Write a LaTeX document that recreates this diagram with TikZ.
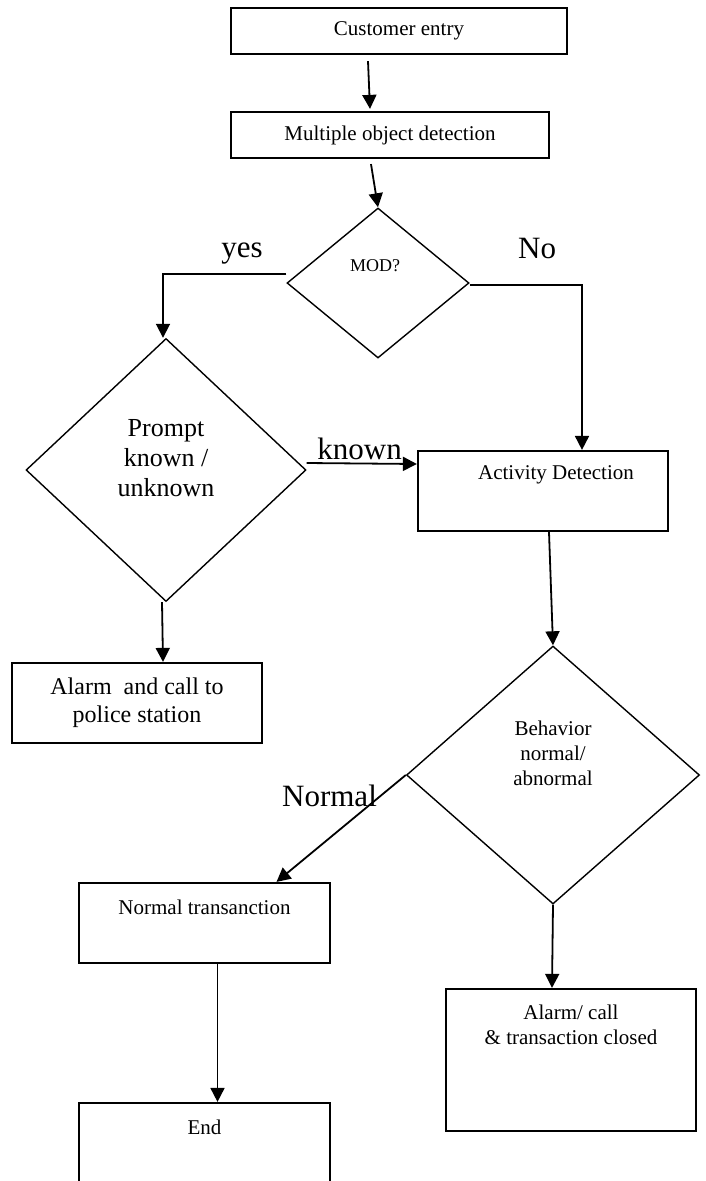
\documentclass[tikz,border=0pt]{standalone}
\usepackage{fontspec}
\setmainfont{Liberation Serif}
\usetikzlibrary{arrows.meta,shapes.geometric}

\begin{document}
\begin{tikzpicture}[x=1pt,y=-1pt,>={Triangle[length=14pt,width=14pt]}]
\tikzstyle{box}=[draw=black,rectangle,line width=2.2pt,inner sep=0pt,align=center,font=\fontsize{21}{25}\selectfont]
\tikzstyle{decision}=[draw=black,diamond,line width=1.4pt,inner sep=0pt]
\tikzstyle{txt}=[align=center,inner sep=0pt,font=\fontsize{21}{25}\selectfont]
\tikzstyle{flow}=[->,line width=1.8pt]
\tikzstyle{tag}=[anchor=base,inner sep=0pt,font=\fontsize{31}{35}\selectfont]

\useasboundingbox (0,0) rectangle (706,1181);

% Cajas de arriba
\node[box,minimum width=336pt,minimum height=46pt] (entry) at (399,31) {Customer entry};
\node[box,minimum width=318pt,minimum height=46pt] (mdet) at (390,135) {Multiple object detection};

% Decisiones
\node[decision,minimum width=182pt,minimum height=150pt,
  label={[txt,font=\fontsize{18}{21}\selectfont,xshift=-3pt,yshift=17pt]center:MOD?}] (mod) at (378,283) {};
\node[decision,minimum width=280pt,minimum height=263pt,
  label={[txt,font=\fontsize{26}{30}\selectfont,yshift=12pt]center:Prompt\\known /\\unknown}] (prompt) at (166,470) {};
\node[decision,minimum width=293pt,minimum height=258pt,
  label={[txt,yshift=22pt]center:Behavior\\normal/\\abnormal}] (behav) at (553,775) {};

% Cajas de abajo
\node[box,minimum width=250pt,minimum height=80pt,
  label={[txt,xshift=13pt,yshift=16pt]center:Activity Detection}] (act) at (543,491) {};
\node[box,minimum width=250pt,minimum height=80pt,font=\fontsize{24}{28}\selectfont] (alarmA) at (137,703) {Alarm\ \ and call to\\police station};
\node[box,minimum width=251pt,minimum height=80pt,
  label={[txt,yshift=16pt]center:Normal transanction}] (normal) at (204.5,923) {};
\node[box,minimum width=251pt,minimum height=110pt,
  label={[txt,yshift=31pt]center:End}] (endbox) at (204.5,1158) {};
\node[box,minimum width=250pt,minimum height=142pt,
  label={[txt,yshift=35pt]center:Alarm/ call\\\& transaction closed}] (alarmB) at (571,1060) {};

% Conexiones
\draw[flow] ([xshift=-31pt,yshift=-6pt]entry.south) -- ([xshift=-20pt,yshift=2pt]mdet.north);
\draw[flow] ([xshift=-19pt,yshift=-5pt]mdet.south) -- (mod.north);
\draw[flow] ([yshift=9pt]mod.west) -| node[tag,pos=0.18,yshift=17pt] {yes} ([xshift=-3pt]prompt.north);
\draw[flow] ([yshift=-2pt]mod.east) -| node[tag,pos=0.3,yshift=27pt] {No} ([xshift=39pt]act.north);
\draw[flow] ([yshift=7pt]prompt.east) -- node[tag,pos=0.48,yshift=4pt] {known} ([yshift=27pt]act.west);
\draw[flow] ([xshift=-4pt]prompt.south) -- ([xshift=26pt]alarmA.north);
\draw[flow] ([xshift=6pt]act.south) -- (behav.north);
\draw[flow] (behav.west) -- node[tag,pos=0.59,yshift=32pt] {Normal} ([xshift=72pt]normal.north);
\draw[flow] ([xshift=13pt]normal.south) -- ([xshift=13pt]endbox.north);
\draw[flow] (behav.south) -- ([xshift=-19pt]alarmB.north);
\end{tikzpicture}
\end{document}
